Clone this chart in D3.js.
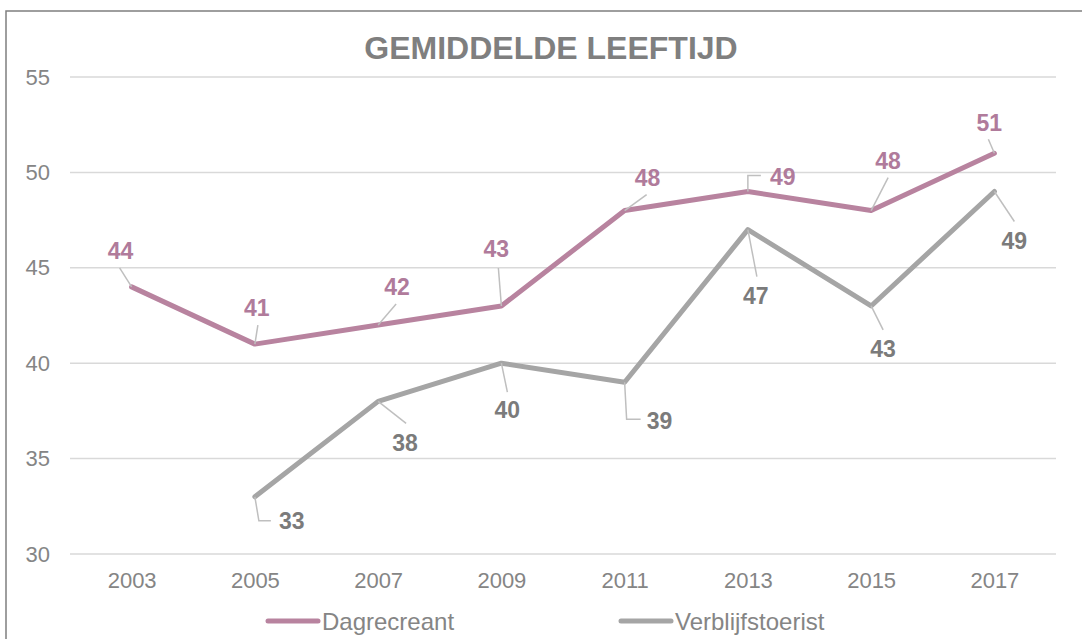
<!DOCTYPE html>
<html>
<head>
<meta charset="utf-8">
<script src="https://cdn.jsdelivr.net/npm/d3@7"></script>
<style>
  body { margin: 0; background: #fff; }
  svg { font-family: "Liberation Sans", Arial, sans-serif; }
</style>
</head>
<body>
<svg id="chart" width="1082" height="639"></svg>
<script>
// data
let years = ["2003", "2005", "2007", "2009", "2011", "2013", "2015", "2017"];
let dagrecreant = [44, 41, 42, 43, 48, 49, 48, 51];
let verblijfstoerist = [null, 33, 38, 40, 39, 47, 43, 49];
let yTicks = [30, 35, 40, 45, 50, 55];

// label placement (pixel offsets from the point: label centre, leader path)
let dagLabelPos = [
    {dx: -11, dy: -36, lead: [[-12, -19]]},
    {dx: 2, dy: -36, lead: [[3, -19]]},
    {dx: 19, dy: -38, lead: [[18, -21]]},
    {dx: -5, dy: -57, lead: [[-3, -38]]},
    {dx: 23, dy: -33, lead: [[22, -16]]},
    {dx: 35, dy: -15, lead: [[0, -16], [13, -16]]},
    {dx: 17, dy: -50, lead: [[17, -33]]},
    {dx: -5, dy: -31, lead: [[-6, -14]]}
];
let verLabelPos = [
    null,
    {dx: 37, dy: 24, lead: [[4, 24], [16, 24]]},
    {dx: 27, dy: 41, lead: [[28, 22]]},
    {dx: 6, dy: 47, lead: [[6, 29]]},
    {dx: 35, dy: 38, lead: [[2, 37], [16, 37]]},
    {dx: 8, dy: 66, lead: [[9, 47]]},
    {dx: 12, dy: 43, lead: [[12, 24]]},
    {dx: 20, dy: 49, lead: [[20, 30]]}
];

let pink = "#b8839f";
let pinkText = "#b07b9b";
let grey = "#a5a5a5";
let greyText = "#7b7b7b";
let axisText = "#858585";

let svg = d3.select("#chart");

// outer frame
svg.append("rect")
    .attr("x", 6).attr("y", 11)
    .attr("width", 1090).attr("height", 640)
    .attr("fill", "none")
    .attr("stroke", "#7f7f7f")
    .attr("stroke-width", 1.5);

let plotLeft = 70, plotRight = 1056, plotTop = 77, plotBottom = 554;

let xMap = d3.scalePoint()
    .domain(years)
    .range([plotLeft, plotRight])
    .padding(0.5);

let yMap = d3.scaleLinear()
    .domain([30, 55])
    .range([plotBottom, plotTop]);

// title
svg.append("text")
    .attr("x", 551).attr("y", 59)
    .attr("text-anchor", "middle")
    .attr("font-size", 32)
    .attr("font-weight", "bold")
    .attr("fill", "#7f7f7f")
    .text("GEMIDDELDE LEEFTIJD");

// grid
svg.append("g").selectAll("line").data(yTicks).enter().append("line")
    .attr("x1", plotLeft).attr("x2", plotRight)
    .attr("y1", d => yMap(d)).attr("y2", d => yMap(d))
    .attr("stroke", "#d9d9d9")
    .attr("stroke-width", 1.5);

// y axis labels
let yAxis = d3.axisLeft(yMap).tickValues(yTicks).tickSize(0).tickPadding(20);
let yg = svg.append("g").attr("transform", `translate(${plotLeft},0)`).call(yAxis);
yg.select(".domain").remove();
yg.selectAll("text").attr("font-size", 22).attr("fill", axisText)
    .attr("font-family", "Liberation Sans, Arial, sans-serif");

// x axis labels
let xAxis = d3.axisBottom(xMap).tickSize(0).tickPadding(18);
let xg = svg.append("g").attr("transform", `translate(0,${plotBottom})`).call(xAxis);
xg.select(".domain").remove();
xg.selectAll("text").attr("font-size", 22).attr("fill", axisText)
    .attr("font-family", "Liberation Sans, Arial, sans-serif");

function drawSeries(values, color, textColor, labelPos) {
    let pts = years.map((y, i) => ({year: y, v: values[i], pos: labelPos[i]}))
        .filter(d => d.v !== null);

    let line = d3.line()
        .x(d => xMap(d.year))
        .y(d => yMap(d.v));

    svg.append("path")
        .datum(pts)
        .attr("d", line)
        .attr("fill", "none")
        .attr("stroke", color)
        .attr("stroke-width", 5)
        .attr("stroke-linejoin", "round")
        .attr("stroke-linecap", "round");

    // leader lines
    svg.append("g").selectAll("path").data(pts).enter().append("path")
        .attr("d", d => {
            let x0 = xMap(d.year), y0 = yMap(d.v);
            let p = [[x0, y0]].concat(d.pos.lead.map(o => [x0 + o[0], y0 + o[1]]));
            return d3.line()(p);
        })
        .attr("fill", "none")
        .attr("stroke", "#bfbfbf")
        .attr("stroke-width", 1.5);

    svg.append("g").selectAll("text").data(pts).enter().append("text")
        .attr("x", d => xMap(d.year) + d.pos.dx)
        .attr("y", d => yMap(d.v) + d.pos.dy)
        .attr("dy", "0.36em")
        .attr("text-anchor", "middle")
        .attr("font-size", 23)
        .attr("font-weight", "bold")
        .attr("fill", textColor)
        .text(d => d.v);
}

drawSeries(dagrecreant, pink, pinkText, dagLabelPos);
drawSeries(verblijfstoerist, grey, greyText, verLabelPos);

// legend
let legend = [
    {name: "Dagrecreant", color: pink, x: 268},
    {name: "Verblijfstoerist", color: grey, x: 621}
];
let lg = svg.append("g").selectAll("g").data(legend).enter().append("g")
    .attr("transform", d => `translate(${d.x},621)`);
lg.append("line")
    .attr("x1", 0).attr("x2", 50)
    .attr("stroke", d => d.color)
    .attr("stroke-width", 5)
    .attr("stroke-linecap", "round");
lg.append("text")
    .attr("x", 54).attr("dy", "0.36em")
    .attr("font-size", 24)
    .attr("fill", axisText)
    .text(d => d.name);
</script>
</body>
</html>
